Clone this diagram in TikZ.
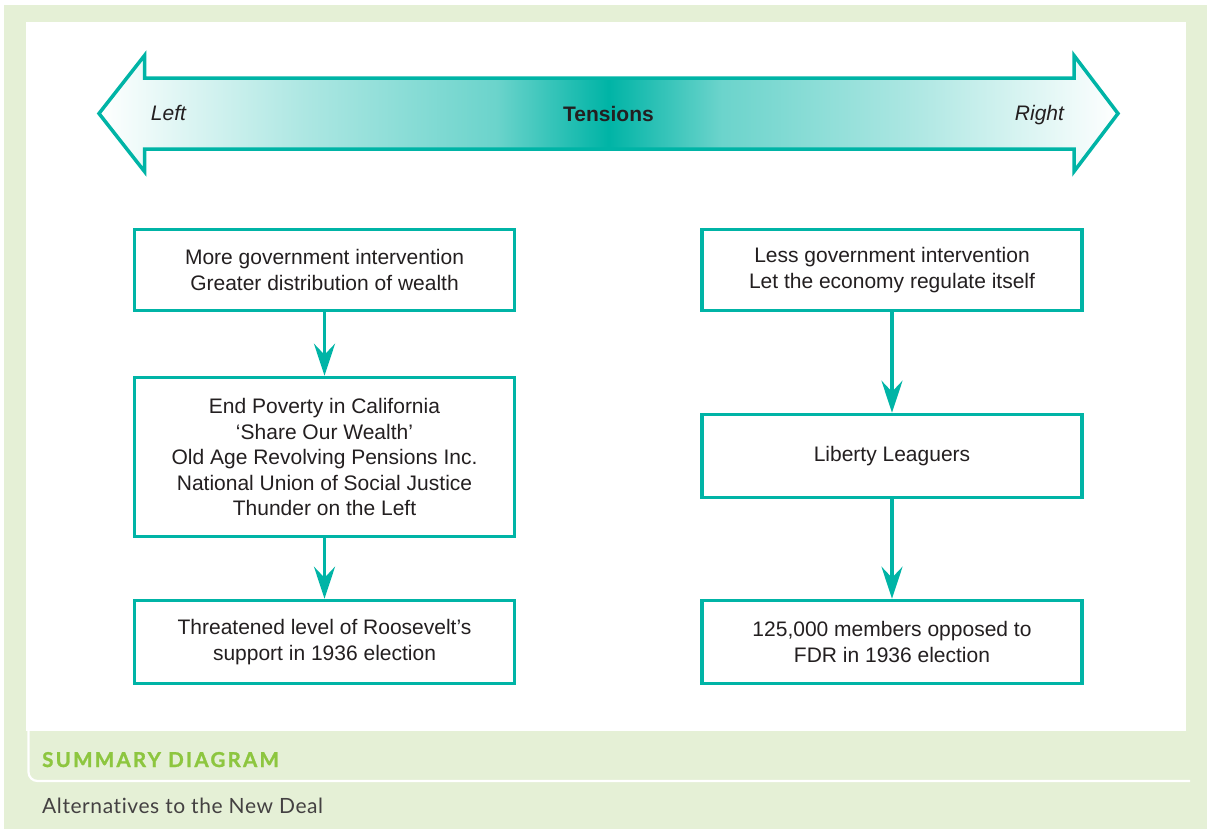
\documentclass[tikz,border=0pt]{standalone}
\usepackage{fontspec}
\setmainfont{Liberation Sans}
\newfontfamily\captionfont{Lato}
\usetikzlibrary{arrows.meta}

\definecolor{flowteal}{RGB}{0,180,166}
\definecolor{panelgreen}{RGB}{229,240,214}
\definecolor{headgreen}{RGB}{141,198,63}
\definecolor{inkgray}{RGB}{35,31,32}

% white at both ends, full teal at the centre of the double arrow
\pgfdeclarehorizontalshading{tensionshade}{100bp}{%
  color(0bp)=(white); color(25bp)=(white);
  color(35bp)=(flowteal!32); color(44.5bp)=(flowteal!58);
  color(48bp)=(flowteal!85); color(50bp)=(flowteal);
  color(52bp)=(flowteal!85); color(55.5bp)=(flowteal!58);
  color(65bp)=(flowteal!32);
  color(75bp)=(white); color(100bp)=(white)}

\tikzset{
  stagebox/.style={draw=flowteal, line width=3.5bp, fill=white,
    minimum width=380bp, align=center, inner sep=0pt,
    text=inkgray, font=\fontsize{21bp}{25.5bp}\selectfont},
  flow/.style={draw=flowteal, line width=3.5bp,
    -{Stealth[length=32bp,width=21bp,inset=11bp]}},
  poletext/.style={text=inkgray, font=\fontsize{21bp}{25bp}\selectfont\itshape,
    anchor=base},
}

\begin{document}
\begin{tikzpicture}[x=1bp, y=-1bp]
\useasboundingbox (0,0) rectangle (1209,831);

% frame: pale green surround with a white drawing panel
\fill[white] (0,0) rectangle (1209,831);
\fill[panelgreen] (4,5) rectangle (1207,829);
\fill[white] (26,22) rectangle (1186,731);
\draw[white, line width=2.2bp, rounded corners=9bp] (28.5,731) -- (28.5,781) -- (1190,781);

% double-headed tension arrow
\shade[shading=tensionshade]
  (99,113.5) -- (144.5,55.5) -- (144.5,78) -- (1074,78) -- (1074,55.5)
  -- (1118,113.5) -- (1074,171.5) -- (1074,149) -- (144.5,149) -- (144.5,171.5) -- cycle;
\draw[flowteal, line width=3.5bp, line join=miter]
  (99,113.5) -- (144.5,55.5) -- (144.5,78) -- (1074,78) -- (1074,55.5)
  -- (1118,113.5) -- (1074,171.5) -- (1074,149) -- (144.5,149) -- (144.5,171.5) -- cycle;
\node[poletext] (left) at (168.5,120.5) {Left};
\node[poletext] (right) at (1039.5,120.5) {Right};
\node[anchor=base, text=inkgray, font=\fontsize{21bp}{25bp}\selectfont\bfseries] (tensions) at (608.5,121) {Tensions};

% left column
\node[stagebox, minimum height=81bp] (l1) at (324.5,270) {More government intervention\\Greater distribution of wealth};
\node[stagebox, minimum height=159bp] (l2) at (324.5,457) {End Poverty in California\\‘Share Our Wealth’\\Old Age Revolving Pensions Inc.\\National Union of Social Justice\\Thunder on the Left};
\node[stagebox, minimum height=83bp] (l3) at (324.5,642) {Threatened level of Roosevelt’s\\support in 1936 election};

% right column
\node[stagebox, minimum height=81bp] (r1) at (892,270) {Less government intervention\\Let the economy regulate itself};
\node[stagebox, minimum height=83bp] (r2) at (892,456) {Liberty Leaguers};
\node[stagebox, minimum height=83bp] (r3) at (892,642) {125,000 members opposed to\\FDR in 1936 election};

\draw[flow] (l1.south) -- (l2.north);
\draw[flow] (l2.south) -- (l3.north);
\draw[flow] (r1.south) -- (r2.north);
\draw[flow] (r2.south) -- (r3.north);

% caption strip
\node[anchor=base west, inner sep=0pt, text=headgreen,
  font=\captionfont\fontsize{20.5bp}{24bp}\selectfont\bfseries\addfontfeatures{LetterSpace=11,FakeBold=1.2}]
  (summary) at (42,767) {SUMMARY DIAGRAM};
\node[anchor=base west, inner sep=0pt, text=inkgray!85,
  font=\captionfont\fontsize{21bp}{24bp}\selectfont\addfontfeatures{LetterSpace=2.8,Ligatures=NoCommon}]
  (title) at (42,813) {Alternatives to the New Deal};
\end{tikzpicture}
\end{document}
